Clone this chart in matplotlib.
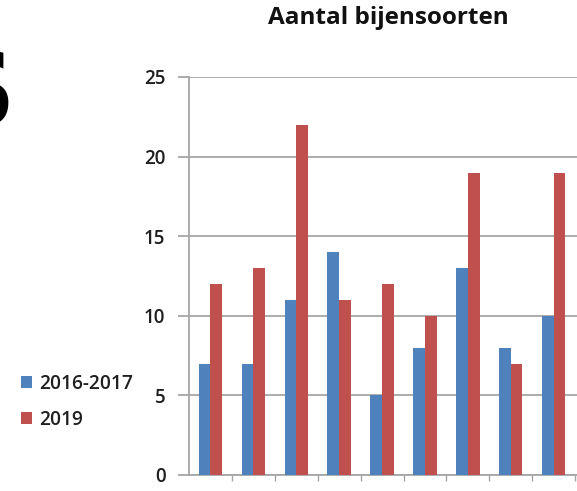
import matplotlib
matplotlib.use("Agg")
import matplotlib.pyplot as plt
import numpy as np

# Number of bee species per site, two survey periods
series_labels = ["2016-2017", "2019"]
counts_2016_2017 = [7, 7, 11, 14, 5, 8, 13, 8, 10]
counts_2019 = [12, 13, 22, 11, 12, 10, 19, 7, 19]
y_ticks = [0, 5, 10, 15, 20, 25]
title = "Aantal bijensoorten"

blue = "#4F81BD"
red = "#C0504D"
grid_col = "#a6a6a6"
text_col = "#1f1f1f"

W, H = 577, 491
fig = plt.figure(figsize=(W / 100, H / 100), dpi=100)

# axes placed in pixel terms: y-axis at x=189, baseline at y=475, top gridline at y=77
left_px, base_px, top_px = 189, 475, 77
cat_px = 42.9
ax = fig.add_axes([left_px / W, (H - base_px) / H, 1 - left_px / W, (base_px - top_px) / H])

n = len(counts_2016_2017)
x = np.arange(n)
bw = 0.272
ax.bar(x - bw / 2, counts_2016_2017, width=bw, color=blue, label=series_labels[0], zorder=3)
ax.bar(x + bw / 2, counts_2019, width=bw, color=red, label=series_labels[1], zorder=3)

ax.set_ylim(0, 25)
ax.set_xlim(-0.5, -0.5 + (W - left_px) / cat_px)
ax.set_yticks(y_ticks)
ax.yaxis.grid(True, color=grid_col, linewidth=1.3, zorder=0)
ax.set_axisbelow(True)

for s in ("top", "right"):
    ax.spines[s].set_visible(False)
for s in ("left", "bottom"):
    ax.spines[s].set_color(grid_col)
    ax.spines[s].set_linewidth(1.3)

ax.set_xticks([])
ax.set_xticks(np.arange(n) + 0.5, minor=True)
ax.tick_params(axis="x", which="minor", length=4, width=1.0, color=grid_col, direction="out")
ax.tick_params(axis="y", length=8, width=1.3, color=grid_col, pad=9,
               labelsize=13.5, labelcolor=text_col)
for lab in ax.get_yticklabels():
    lab.set_fontfamily("Open Sans")
    lab.set_fontweight("semibold")

fig.text(388 / W, 1 - 18 / H, title, ha="center", va="center",
         fontsize=17.5, fontweight="bold", family="Open Sans", color="#111111")

# legend to the left of the plot area
leg = fig.legend(loc="upper left", bbox_to_anchor=(11 / W, 1 - 364 / H),
                 frameon=False, prop={"family": "Open Sans", "size": 13.8, "weight": "semibold"},
                 handlelength=0.62, handleheight=0.62, handletextpad=0.35,
                 labelspacing=0.85, borderpad=0)
for t in leg.get_texts():
    t.set_color(text_col)

# large bold letter partly visible at the left edge
fig.text(-59 / W, 1 - 126 / H, "S", ha="left", va="baseline",
         fontsize=75, fontweight="bold", family="DejaVu Sans", color="black")

fig.savefig("out.png", dpi=100)
